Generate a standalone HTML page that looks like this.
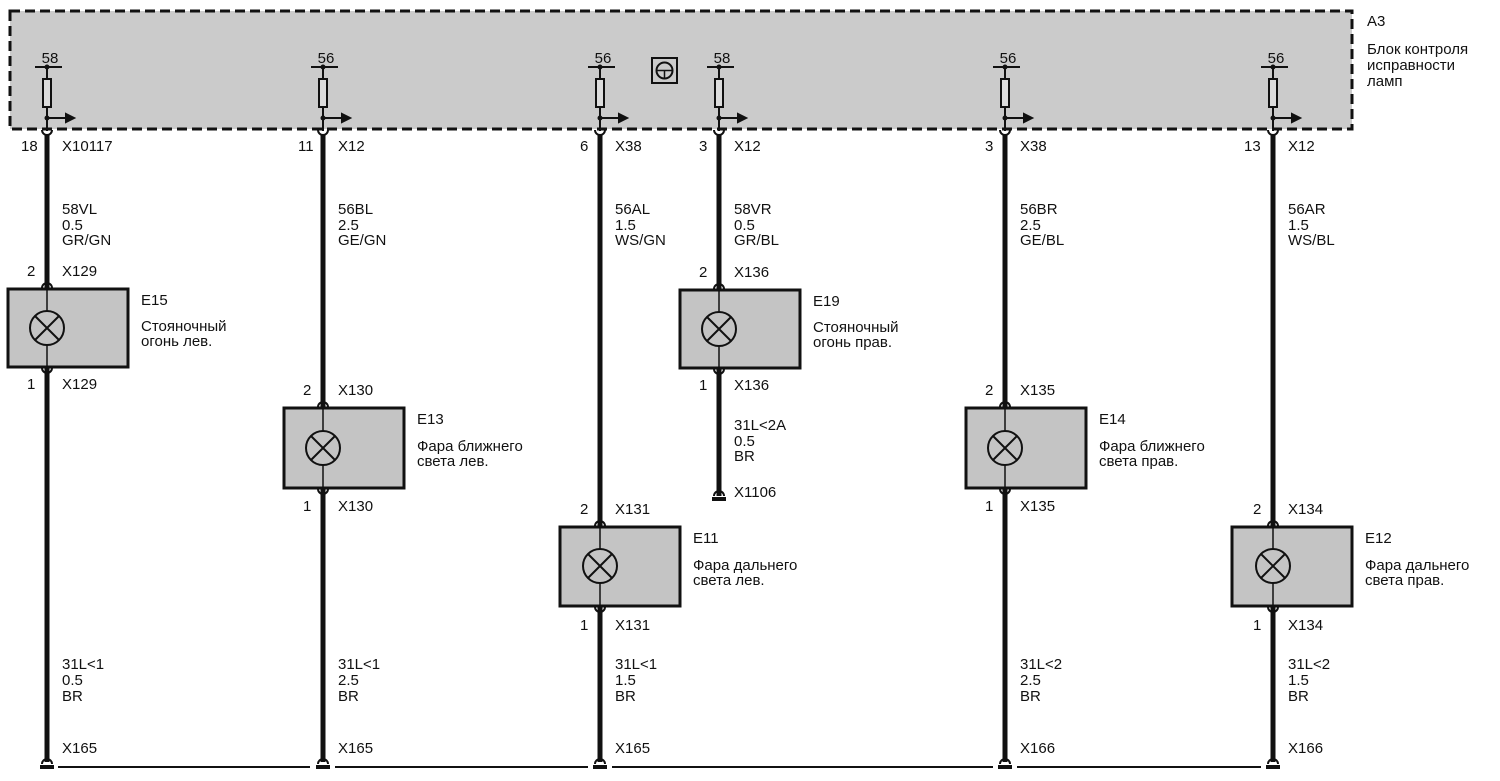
<!DOCTYPE html>
<html><head><meta charset="utf-8"><style>
html,body{margin:0;padding:0;background:#fff;}
svg{display:block;}
text{font-family:"Liberation Sans",Arial,sans-serif;font-size:15px;fill:#111;}
</style></head><body>
<svg width="1500" height="781" viewBox="0 0 1500 781" xmlns="http://www.w3.org/2000/svg">
<rect x="10" y="11" width="1342" height="118" fill="#cbcbcb" stroke="#111" stroke-width="3" stroke-dasharray="10,5"/>
<text x="1367" y="26">A3</text>
<text x="1367" y="54">Блок контроля</text>
<text x="1367" y="70">исправности</text>
<text x="1367" y="86">ламп</text>
<rect x="652" y="58" width="25" height="25" fill="none" stroke="#111" stroke-width="2"/>
<circle cx="664.5" cy="70.5" r="8" fill="none" stroke="#111" stroke-width="2"/>
<path d="M656.5 70.5 H672.5 M664.5 70.5 V78.5" stroke="#111" stroke-width="1.5"/>
<g id="cols" stroke="#111" fill="none">
</g>
<!-- columns -->
<g stroke="#111">
<!-- fuses -->
<g id="f1"></g>
</g>
<!-- Column generator done manually -->
<g>
<!-- column template elements per x -->
</g>
<g fill="none" stroke="#111">
<!-- wires -->
<path d="M47 134V289 M47 367V762" stroke-width="5"/>
<path d="M323 134V408 M323 488V762" stroke-width="5"/>
<path d="M600 134V527 M600 606V762" stroke-width="5"/>
<path d="M719 134V290 M719 368V496" stroke-width="5"/>
<path d="M1005 134V408 M1005 488V762" stroke-width="5"/>
<path d="M1273 134V527 M1273 606V762" stroke-width="5"/>
<!-- ground line -->
<path d="M58 767H310 M335 767H588 M612 767H993 M1017 767H1261" stroke-width="2"/>
</g>
<!-- fuse symbols -->
<g fill="none" stroke="#111" stroke-width="2">
<path d="M35 67H62 M47 67V79 M47 107V131 M47 118H70"/><rect x="43" y="79" width="8" height="28" fill="#ddd"/><path d="M66 114L74 118L66 122Z" fill="#111"/>
<path d="M311 67H338 M323 67V79 M323 107V131 M323 118H346"/><rect x="319" y="79" width="8" height="28" fill="#ddd"/><path d="M342 114L350 118L342 122Z" fill="#111"/>
<path d="M588 67H615 M600 67V79 M600 107V131 M600 118H623"/><rect x="596" y="79" width="8" height="28" fill="#ddd"/><path d="M619 114L627 118L619 122Z" fill="#111"/>
<path d="M707 67H734 M719 67V79 M719 107V131 M719 118H742"/><rect x="715" y="79" width="8" height="28" fill="#ddd"/><path d="M738 114L746 118L738 122Z" fill="#111"/>
<path d="M993 67H1020 M1005 67V79 M1005 107V131 M1005 118H1028"/><rect x="1001" y="79" width="8" height="28" fill="#ddd"/><path d="M1024 114L1032 118L1024 122Z" fill="#111"/>
<path d="M1261 67H1288 M1273 67V79 M1273 107V131 M1273 118H1296"/><rect x="1269" y="79" width="8" height="28" fill="#ddd"/><path d="M1292 114L1300 118L1292 122Z" fill="#111"/>
</g>
<g fill="#111"><circle cx="47" cy="67" r="2.5"/><circle cx="47" cy="118" r="2.5"/><circle cx="323" cy="67" r="2.5"/><circle cx="323" cy="118" r="2.5"/><circle cx="600" cy="67" r="2.5"/><circle cx="600" cy="118" r="2.5"/><circle cx="719" cy="67" r="2.5"/><circle cx="719" cy="118" r="2.5"/><circle cx="1005" cy="67" r="2.5"/><circle cx="1005" cy="118" r="2.5"/><circle cx="1273" cy="67" r="2.5"/><circle cx="1273" cy="118" r="2.5"/></g>
<g text-anchor="middle"><text x="50" y="63" text-anchor="middle">58</text><text x="326" y="63" text-anchor="middle">56</text><text x="603" y="63" text-anchor="middle">56</text><text x="722" y="63" text-anchor="middle">58</text><text x="1008" y="63" text-anchor="middle">56</text><text x="1276" y="63" text-anchor="middle">56</text></g>
<!-- connector u-shapes top -->
<g fill="none" stroke="#111" stroke-width="2">
<path d="M42 130a5 5 0 0 0 10 0"/><path d="M318 130a5 5 0 0 0 10 0"/><path d="M595 130a5 5 0 0 0 10 0"/><path d="M714 130a5 5 0 0 0 10 0"/><path d="M1000 130a5 5 0 0 0 10 0"/><path d="M1268 130a5 5 0 0 0 10 0"/>
</g>
<!-- components -->
<g stroke="#111" stroke-width="3" fill="#c4c4c4">
<rect x="8" y="289" width="120" height="78"/>
<rect x="284" y="408" width="120" height="80"/>
<rect x="560" y="527" width="120" height="79"/>
<rect x="680" y="290" width="120" height="78"/>
<rect x="966" y="408" width="120" height="80"/>
<rect x="1232" y="527" width="120" height="79"/>
</g>
<g stroke="#111" stroke-width="2" fill="none">
<path d="M47 289V367 M323 408V488 M600 527V606 M719 290V368 M1005 408V488 M1273 527V606" stroke-width="1.5"/>
<circle cx="47" cy="328" r="17" fill="#c4c4c4"/><path d="M35 316L59 340M59 316L35 340"/>
<circle cx="323" cy="448" r="17" fill="#c4c4c4"/><path d="M311 436L335 460M335 436L311 460"/>
<circle cx="600" cy="566" r="17" fill="#c4c4c4"/><path d="M588 554L612 578M612 554L588 578"/>
<circle cx="719" cy="329" r="17" fill="#c4c4c4"/><path d="M707 317L731 341M731 317L707 341"/>
<circle cx="1005" cy="448" r="17" fill="#c4c4c4"/><path d="M993 436L1017 460M1017 436L993 460"/>
<circle cx="1273" cy="566" r="17" fill="#c4c4c4"/><path d="M1261 554L1285 578M1285 554L1261 578"/>
<!-- pin u-shapes -->
<path d="M42 288a5 5 0 0 1 10 0 M42 368a5 5 0 0 0 10 0"/>
<path d="M318 407a5 5 0 0 1 10 0 M318 489a5 5 0 0 0 10 0"/>
<path d="M595 526a5 5 0 0 1 10 0 M595 607a5 5 0 0 0 10 0"/>
<path d="M714 289a5 5 0 0 1 10 0 M714 369a5 5 0 0 0 10 0"/>
<path d="M1000 407a5 5 0 0 1 10 0 M1000 489a5 5 0 0 0 10 0"/>
<path d="M1268 526a5 5 0 0 1 10 0 M1268 607a5 5 0 0 0 10 0"/>
<!-- grounds -->
<path d="M42 764a5 5 0 0 1 10 0 M318 764a5 5 0 0 1 10 0 M595 764a5 5 0 0 1 10 0 M714 496a5 5 0 0 1 10 0 M1000 764a5 5 0 0 1 10 0 M1268 764a5 5 0 0 1 10 0"/>
</g>
<g fill="#111"><rect x="40" y="765" width="14" height="4"/><rect x="316" y="765" width="14" height="4"/><rect x="593" y="765" width="14" height="4"/><rect x="712" y="497" width="14" height="4"/><rect x="998" y="765" width="14" height="4"/><rect x="1266" y="765" width="14" height="4"/></g>
<!-- texts -->
<g>
<text x="21" y="151">18</text><text x="62" y="151">X10117</text>
<text x="298" y="151">11</text><text x="338" y="151">X12</text>
<text x="580" y="151">6</text><text x="615" y="151">X38</text>
<text x="699" y="151">3</text><text x="734" y="151">X12</text>
<text x="985" y="151">3</text><text x="1020" y="151">X38</text>
<text x="1244" y="151">13</text><text x="1288" y="151">X12</text>

<text x="62" y="214">58VL</text><text x="62" y="230">0.5</text><text x="62" y="245">GR/GN</text>
<text x="338" y="214">56BL</text><text x="338" y="230">2.5</text><text x="338" y="245">GE/GN</text>
<text x="615" y="214">56AL</text><text x="615" y="230">1.5</text><text x="615" y="245">WS/GN</text>
<text x="734" y="214">58VR</text><text x="734" y="230">0.5</text><text x="734" y="245">GR/BL</text>
<text x="1020" y="214">56BR</text><text x="1020" y="230">2.5</text><text x="1020" y="245">GE/BL</text>
<text x="1288" y="214">56AR</text><text x="1288" y="230">1.5</text><text x="1288" y="245">WS/BL</text>

<text x="27" y="276">2</text><text x="62" y="276">X129</text><text x="27" y="389">1</text><text x="62" y="389">X129</text>
<text x="141" y="305">E15</text><text x="141" y="331">Стояночный</text><text x="141" y="346">огонь лев.</text>

<text x="303" y="395">2</text><text x="338" y="395">X130</text><text x="303" y="511">1</text><text x="338" y="511">X130</text>
<text x="417" y="424">E13</text><text x="417" y="451">Фара ближнего</text><text x="417" y="466">света лев.</text>

<text x="580" y="514">2</text><text x="615" y="514">X131</text><text x="580" y="630">1</text><text x="615" y="630">X131</text>
<text x="693" y="543">E11</text><text x="693" y="570">Фара дальнего</text><text x="693" y="585">света лев.</text>

<text x="699" y="277">2</text><text x="734" y="277">X136</text><text x="699" y="390">1</text><text x="734" y="390">X136</text>
<text x="813" y="306">E19</text><text x="813" y="332">Стояночный</text><text x="813" y="347">огонь прав.</text>
<text x="734" y="430">31L&lt;2A</text><text x="734" y="446">0.5</text><text x="734" y="461">BR</text><text x="734" y="497">X1106</text>

<text x="985" y="395">2</text><text x="1020" y="395">X135</text><text x="985" y="511">1</text><text x="1020" y="511">X135</text>
<text x="1099" y="424">E14</text><text x="1099" y="451">Фара ближнего</text><text x="1099" y="466">света прав.</text>

<text x="1253" y="514">2</text><text x="1288" y="514">X134</text><text x="1253" y="630">1</text><text x="1288" y="630">X134</text>
<text x="1365" y="543">E12</text><text x="1365" y="570">Фара дальнего</text><text x="1365" y="585">света прав.</text>

<text x="62" y="669">31L&lt;1</text><text x="62" y="685">0.5</text><text x="62" y="701">BR</text><text x="62" y="753">X165</text>
<text x="338" y="669">31L&lt;1</text><text x="338" y="685">2.5</text><text x="338" y="701">BR</text><text x="338" y="753">X165</text>
<text x="615" y="669">31L&lt;1</text><text x="615" y="685">1.5</text><text x="615" y="701">BR</text><text x="615" y="753">X165</text>
<text x="1020" y="669">31L&lt;2</text><text x="1020" y="685">2.5</text><text x="1020" y="701">BR</text><text x="1020" y="753">X166</text>
<text x="1288" y="669">31L&lt;2</text><text x="1288" y="685">1.5</text><text x="1288" y="701">BR</text><text x="1288" y="753">X166</text>
</g>
</svg>
</body></html>
